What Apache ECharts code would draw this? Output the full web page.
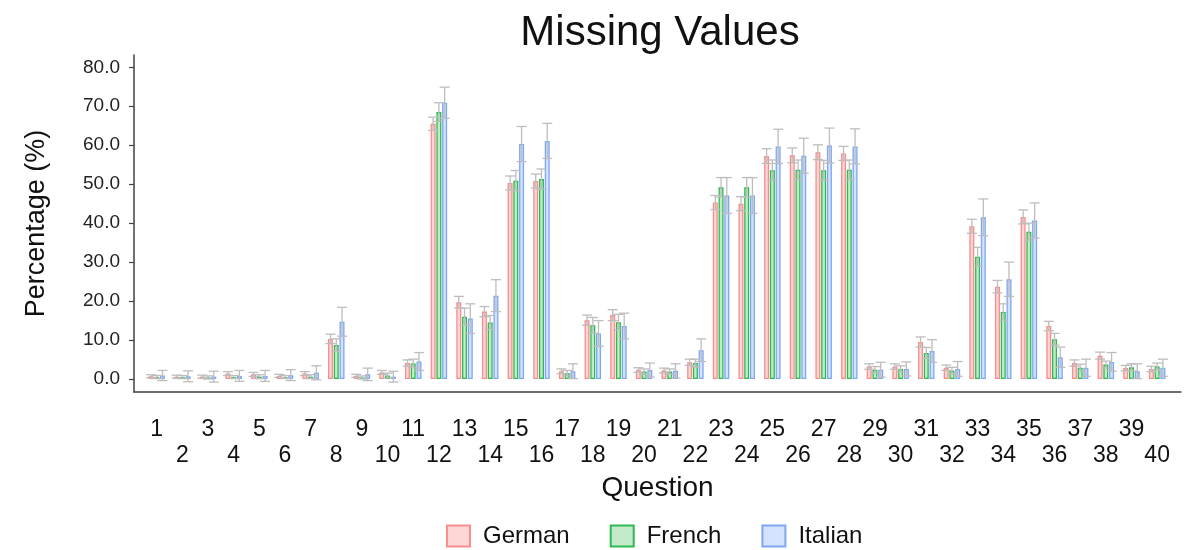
<!DOCTYPE html>
<html>
<head>
<meta charset="utf-8">
<script src="https://cdn.jsdelivr.net/npm/echarts@6/dist/echarts.min.js"></script>
<style>
  html, body { margin: 0; padding: 0; background: #fff; }
  #chart { width: 1184px; height: 550px; }
</style>
</head>
<body>
<div id="chart"></div>
<script>
// Missing values per question, grouped bars with error bars (German / French / Italian)

const questions = Array.from({ length: 40 }, (_, i) => i + 1)
const languages = ['German', 'French', 'Italian']

const german = [0.7, 0.6, 0.6, 1.4, 1.2, 0.8, 1.4, 10.3, 0.8, 1.7,
  4.1, 65.5, 19.7, 17.3, 50.3, 50.8, 2.0, 15.1, 16.4, 2.3,
  2.2, 4.3, 45.3, 45.0, 57.2, 57.4, 58.2, 57.9, 3.2, 3.2,
  9.5, 2.9, 39.2, 23.7, 41.6, 13.6, 4.1, 6.0, 2.8, 2.6]
const french = [0.5, 0.5, 0.4, 0.5, 0.6, 0.5, 0.6, 8.7, 0.4, 0.9,
  4.0, 68.5, 16.0, 14.5, 50.9, 51.3, 1.5, 13.8, 14.6, 1.9,
  1.9, 4.1, 49.2, 49.2, 53.6, 53.7, 53.6, 53.7, 2.4, 2.6,
  6.7, 2.2, 31.4, 17.2, 37.8, 10.2, 2.9, 3.7, 3.0, 3.2]
const italian = [0.9, 0.7, 0.6, 0.8, 0.8, 1.0, 1.6, 14.7, 1.2, 0.6,
  4.5, 70.9, 15.5, 21.4, 60.3, 61.1, 2.0, 11.7, 13.6, 2.3,
  2.1, 7.4, 47.1, 47.1, 59.7, 57.3, 59.9, 59.7, 2.4, 2.6,
  7.2, 2.6, 41.5, 25.6, 40.7, 5.6, 2.9, 4.4, 2.0, 2.9]

// half-width of the error bars
const germanErr = [0.4, 0.4, 0.4, 0.5, 0.5, 0.4, 0.5, 1.2, 0.4, 0.5,
  0.8, 1.7, 1.5, 1.3, 1.8, 1.8, 0.6, 1.3, 1.4, 0.6,
  0.6, 0.8, 1.8, 1.8, 1.9, 1.9, 1.9, 1.8, 0.7, 0.7,
  1.3, 0.7, 1.8, 1.6, 1.8, 1.2, 0.8, 0.9, 0.7, 0.7]
const frenchErr = [0.4, 0.4, 0.4, 0.4, 0.5, 0.4, 0.5, 1.6, 0.4, 0.6,
  1.1, 2.4, 2.2, 1.8, 2.6, 2.6, 0.7, 2.0, 2.0, 0.7,
  0.7, 1.0, 2.5, 2.5, 2.6, 2.5, 2.5, 2.5, 0.8, 0.8,
  1.4, 0.8, 2.4, 2.1, 2.2, 1.5, 0.9, 0.9, 0.9, 0.9]
const italianErr = [1.3, 1.4, 1.4, 1.4, 1.4, 1.4, 1.8, 3.7, 1.6, 1.4,
  2.3, 4.0, 3.8, 4.1, 4.5, 4.5, 1.9, 3.3, 3.3, 1.8,
  1.8, 2.9, 4.6, 4.6, 4.4, 4.5, 4.5, 4.5, 1.9, 1.8,
  2.9, 1.9, 4.7, 4.4, 4.5, 2.6, 2.2, 2.4, 1.9, 2.2]

const yTicks = [0, 10, 20, 30, 40, 50, 60, 70, 80]

const FONT = "'Liberation Sans', Arial, sans-serif"
const BAR_W = 5
const BAR_GAP = 0.75
const CAP = 5
const ERR_COLOR = '#bdbdbd'
const palette = {
  German: { fill: '#fdd6d6', line: '#f78d8d' },
  French: { fill: '#c3ebcb', line: '#2dbb4f' },
  Italian: { fill: '#d3e2fd', line: '#7ea7f3' },
}

function barSeries(name, values) {
  return {
    name,
    type: 'bar',
    barWidth: BAR_W,
    barGap: '15%',
    data: values.map((v, i) => [questions[i], v]),
    itemStyle: { color: palette[name].fill, borderColor: palette[name].line, borderWidth: 1.3 },
  }
}

// slot: -1 / 0 / 1 → position of the bar inside its group
function errorSeries(name, values, errs, slot) {
  return {
    name: name + ' error',
    type: 'custom',
    z: 5,
    silent: true,
    data: values.map((v, i) => [questions[i], v - errs[i], v + errs[i]]),
    encode: { x: 0, y: [1, 2] },
    renderItem: (params, api) => {
      const x = api.value(0)
      const lo = api.coord([x, api.value(1)])
      const hi = api.coord([x, api.value(2)])
      const cx = lo[0] + slot * (BAR_W + BAR_GAP)
      const style = { stroke: ERR_COLOR, lineWidth: 1.3 }
      return {
        type: 'group',
        children: [
          { type: 'line', shape: { x1: cx, y1: lo[1], x2: cx, y2: hi[1] }, style },
          { type: 'line', shape: { x1: cx - CAP, y1: hi[1], x2: cx + CAP, y2: hi[1] }, style },
          { type: 'line', shape: { x1: cx - CAP, y1: lo[1], x2: cx + CAP, y2: lo[1] }, style },
        ],
      }
    },
  }
}

const chart = echarts.init(document.getElementById('chart'), null, { renderer: 'canvas' })
chart.setOption({
  animation: false,
  textStyle: { fontFamily: FONT },
  title: {
    text: 'Missing Values',
    left: 655,
    top: 7,
    textAlign: 'center',
    textStyle: { fontFamily: FONT, fontSize: 42, fontWeight: 'normal', color: '#111' },
  },
  legend: {
    data: languages,
    icon: 'rect',
    left: 446,
    top: 524,
    padding: 0,
    itemWidth: 23,
    itemHeight: 21,
    itemGap: 40,
    textStyle: { fontFamily: FONT, fontSize: 24, color: '#111', padding: [0, 0, 0, 8] },
  },
  grid: { left: 134, right: 3, top: 55, bottom: 158, outerBoundsMode: 'none' },
  xAxis: {
    type: 'value',
    min: 0.115,
    max: 40.93,
    name: 'Question',
    nameLocation: 'middle',
    nameGap: 80,
    nameTextStyle: { fontFamily: FONT, fontSize: 28, color: '#111' },
    axisLine: { show: true, onZero: false, lineStyle: { color: '#404040', width: 1.5 } },
    axisTick: { show: false },
    splitLine: { show: false },
    axisLabel: {
      customValues: questions,
      margin: 25,
      fontSize: 23,
      lineHeight: 26,
      color: '#111',
      formatter: (v) => (v % 2 ? v + '\n' : '\n' + v),
    },
  },
  yAxis: {
    type: 'value',
    min: -3.33,
    max: 83.15,
    name: 'Percentage (%)',
    nameLocation: 'middle',
    nameGap: 84,
    nameTextStyle: { fontFamily: FONT, fontSize: 27, color: '#111' },
    axisLine: { show: true, onZero: false, lineStyle: { color: '#404040', width: 1.5 } },
    axisTick: { show: true, customValues: yTicks, length: 5, lineStyle: { color: '#404040', width: 1.2 } },
    splitLine: { show: false },
    axisLabel: {
      customValues: yTicks,
      margin: 14,
      fontSize: 19,
      color: '#222',
      formatter: (v) => v.toFixed(1),
    },
  },
  series: [
    barSeries('German', german),
    barSeries('French', french),
    barSeries('Italian', italian),
    errorSeries('German', german, germanErr, -1),
    errorSeries('French', french, frenchErr, 0),
    errorSeries('Italian', italian, italianErr, 1),
  ],
})
</script>
</body>
</html>
